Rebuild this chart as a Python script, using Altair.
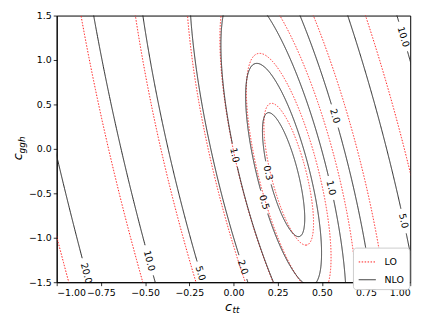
import numpy as np
import pandas as pd
import altair as alt

# contour levels and models
levels = [0.3, 0.5, 1.0, 2.0, 5.0, 10.0, 20.0]
models = ["LO", "NLO"]

# quadratic surface (ratio sigma/sigma_SM):
# f = A*(x - (p + q*y))^2 + m + C*(y - y0)^2
curv_x = {"LO": 10.1, "NLO": 12.5}
ridge_p = {"LO": 0.278, "NLO": 0.2485}
ridge_q = {"LO": -0.1213, "NLO": -0.121}
min_val = {"LO": 0.195, "NLO": 0.21}
curv_y = {"LO": 0.165, "NLO": 0.185}
min_y = {"LO": -0.285, "NLO": -0.29}

# inline contour labels (NLO only): level, c_ggh position, branch side
label_level = [0.3, 0.5, 1.0, 1.0, 2.0, 2.0, 5.0, 5.0, 10.0, 10.0, 20.0]
label_y = [-0.27, -0.6, -0.07, -0.44, -1.33, 0.37, -1.4, -0.81, -1.26, 1.26, -1.4]
label_side = ["L", "L", "L", "R", "L", "R", "L", "R", "L", "R", "L"]

x_ticks = [-1.0, -0.75, -0.5, -0.25, 0.0, 0.25, 0.5, 0.75, 1.0]
y_ticks = [-1.5, -1.0, -0.5, 0.0, 0.5, 1.0, 1.5]

W, H = 358, 270
XD, YD = [-1.0, 1.0], [-1.5, 1.5]


def to_px(x, y):
    return (x - XD[0]) / (XD[1] - XD[0]) * W, (YD[1] - y) / (YD[1] - YD[0]) * H


def params(model, L):
    A, p, q = curv_x[model], ridge_p[model], ridge_q[model]
    m, C, y0 = min_val[model], curv_y[model], min_y[model]
    Rx = np.sqrt((L - m) / A)
    Ry = np.sqrt((L - m) / C)
    return p, q, y0, Rx, Ry


# label positions and angles
lab_rows = []
for L, yl, side in zip(label_level, label_y, label_side):
    p, q, y0, Rx, Ry = params("NLO", L)
    s = np.clip((yl - y0) / Ry, -1, 1)
    t = np.arcsin(s) if side == "R" else np.pi - np.arcsin(s)
    yy = y0 + Ry * np.sin(t)
    xx = p + q * yy + Rx * np.cos(t)
    dx = q * Ry * np.cos(t) - Rx * np.sin(t)
    dy = Ry * np.cos(t)
    dpx = dx * W / 2.0
    dpy = -dy * H / 3.0
    if dpx < 0:
        dpx, dpy = -dpx, -dpy
    ang = float(np.degrees(np.arctan2(dpy, dpx)))
    lab_rows.append({"x": float(xx), "y": float(yy), "text": f"{L:.1f}",
                     "ang": ang % 360, "L": L})
labels = pd.DataFrame(lab_rows)

# contour lines
rows = []
for model in models:
    for L in levels:
        p, q, y0, Rx, Ry = params(model, L)
        t = np.linspace(-np.pi / 2, 3 * np.pi / 2, 2400)
        y = y0 + Ry * np.sin(t)
        x = p + q * y + Rx * np.cos(t)
        keep = (x >= -1.05) & (x <= 1.05) & (y >= -1.56) & (y <= 1.56)
        if model == "NLO":
            px, py = to_px(x, y)
            for _, r in labels[labels["L"] == L].iterrows():
                lx, ly = to_px(r["x"], r["y"])
                rad = len(r["text"]) * 3.0 + 3.0
                keep &= np.hypot(px - lx, py - ly) > rad
        seg = np.cumsum(np.r_[True, keep[1:] != keep[:-1]])
        for i in np.where(keep)[0]:
            rows.append({"model": model, "seg": f"{model}_{L}_{seg[i]}",
                         "idx": int(i), "x": round(float(x[i]), 5),
                         "y": round(float(y[i]), 5)})
lines = pd.DataFrame(rows)

xs = alt.Scale(domain=XD, nice=False, zero=False)
ys = alt.Scale(domain=YD, nice=False, zero=False)

line_layer = alt.Chart(lines).mark_line(clip=True, strokeWidth=1).encode(
    x=alt.X("x:Q", scale=xs, title=None,
            axis=alt.Axis(values=x_ticks, format=".2f")),
    y=alt.Y("y:Q", scale=ys, title=None,
            axis=alt.Axis(values=y_ticks, format=".1f")),
    color=alt.Color("model:N", scale=alt.Scale(domain=models, range=["#ff2020", "#222222"]),
                    legend=alt.Legend(orient="none", legendX=300, legendY=235, title=None,
                                      fillColor="white", strokeColor="#cccccc",
                                      cornerRadius=3, padding=5, symbolType="stroke",
                                      symbolSize=300, symbolStrokeWidth=1,
                                      labelFont="DejaVu Sans", labelFontSize=9.5,
                                      rowPadding=4, labelOffset=8)),
    strokeDash=alt.StrokeDash("model:N", scale=alt.Scale(domain=models, range=[[1.5, 1.5], [1, 0]]),
                              legend=alt.Legend(orient="none", legendX=300, legendY=235, title=None)),
    detail="seg:N",
    order="idx:Q",
)

text_layer = alt.Chart(labels).mark_text(font="DejaVu Sans", fontSize=9.5, color="black",
                                         align="center", baseline="middle").encode(
    x=alt.X("x:Q", scale=xs),
    y=alt.Y("y:Q", scale=ys),
    text="text:N",
    angle=alt.Angle("ang:Q", scale=None),
)

ttl = pd.DataFrame({"k": [0]})
xt_c = alt.Chart(ttl).mark_text(font="DejaVu Sans", fontStyle="italic", fontSize=13, color="black").encode(
    x=alt.value(174), y=alt.value(295), text=alt.value("c"))
xt_s = alt.Chart(ttl).mark_text(font="DejaVu Sans", fontStyle="italic", fontSize=9, color="black").encode(
    x=alt.value(181.5), y=alt.value(298.5), text=alt.value("tt"))
yt_c = alt.Chart(ttl).mark_text(font="DejaVu Sans", fontStyle="italic", fontSize=13, color="black", angle=270).encode(
    x=alt.value(-39), y=alt.value(143), text=alt.value("c"))
yt_s = alt.Chart(ttl).mark_text(font="DejaVu Sans", fontStyle="italic", fontSize=9, color="black", angle=270).encode(
    x=alt.value(-35.5), y=alt.value(131), text=alt.value("ggh"))

chart = alt.layer(line_layer, text_layer, xt_c, xt_s, yt_c, yt_s).properties(
    width=W, height=H,
    autosize=alt.AutoSizeParams(type="none"),
    padding={"left": 49.3, "top": 5.7, "right": 18, "bottom": 35},
).configure_view(stroke="black", strokeWidth=1).configure_axis(
    grid=False, domainColor="black", tickColor="black", labelColor="black",
    labelFont="DejaVu Sans", labelFontSize=9.5, tickSize=3.5, labelPadding=2,
    domainWidth=1, tickWidth=0.8,
)

chart.save("out.html", embed_options={"renderer": "svg", "actions": False})
